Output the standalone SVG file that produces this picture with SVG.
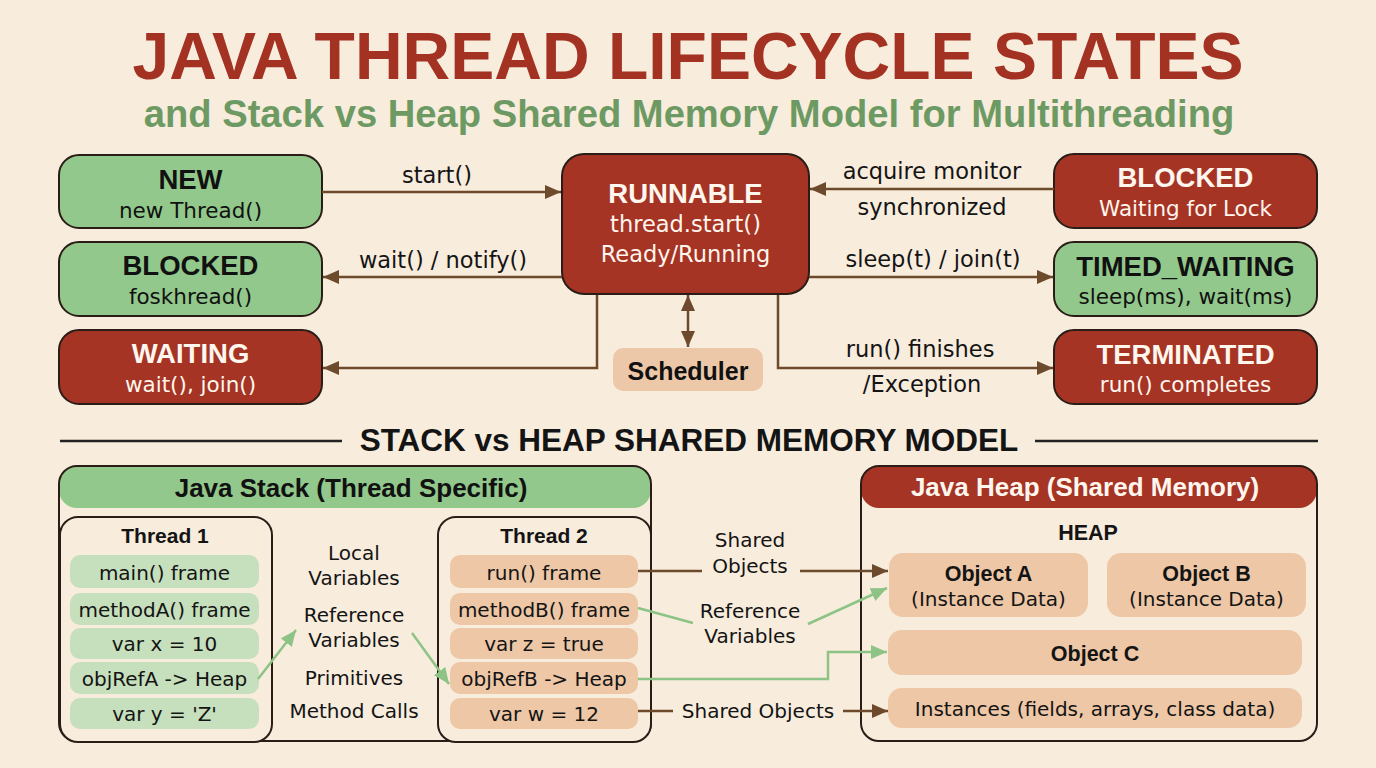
<svg xmlns="http://www.w3.org/2000/svg" width="1376" height="768" viewBox="0 0 1376 768">
<defs>
<style>
.bg{fill:#F8ECDD}
.t{font-family:"Liberation Sans",Arial,sans-serif;font-weight:bold;font-size:27.5px;text-anchor:middle}
.s{font-family:"DejaVu Sans",sans-serif;font-size:21.5px;text-anchor:middle}
.lbl{font-family:"DejaVu Sans",sans-serif;font-size:22.5px;text-anchor:middle;fill:#141414}
.sm{font-family:"DejaVu Sans",sans-serif;font-size:20px;text-anchor:middle;fill:#141414}
.bd{font-family:"Liberation Sans",Arial,sans-serif;font-weight:bold;font-size:21.5px;text-anchor:middle;fill:#141414}
.hd{font-family:"Liberation Sans",Arial,sans-serif;font-weight:bold;font-size:26px;text-anchor:middle}
.red{fill:#A53424;stroke:#2A1D17;stroke-width:2}
.grn{fill:#92C88B;stroke:#2A1D17;stroke-width:2}
.w{fill:#FFF6EE}
.k{fill:#111}
.frg{fill:#C6DFBC}
.frp{fill:#EDC7A6}
.box{fill:none;stroke:#2A1D17;stroke-width:2}
.bc{fill:none;stroke:#6E4A2D;stroke-width:2.5}
.gc{fill:none;stroke:#8DC486;stroke-width:2.5}
</style>
<marker id="ab" viewBox="0 0 16 14" refX="16" refY="7" markerWidth="16" markerHeight="14" markerUnits="userSpaceOnUse" orient="auto-start-reverse"><path d="M0,0 L16,7 L0,14 z" fill="#6E4A2D"/></marker>
<marker id="ag" viewBox="0 0 16 14" refX="16" refY="7" markerWidth="16" markerHeight="14" markerUnits="userSpaceOnUse" orient="auto"><path d="M0,0 L16,7 L0,14 z" fill="#8DC486"/></marker>
</defs>
<rect class="bg" x="0" y="0" width="1376" height="768"/>

<g id="title">
<text x="688" y="79" font-family="Liberation Sans, Arial, sans-serif" font-weight="bold" font-size="66" text-anchor="middle" fill="#A33222">JAVA THREAD LIFECYCLE STATES</text>
<text x="689" y="127" font-family="Liberation Sans, Arial, sans-serif" font-weight="bold" font-size="38.2" text-anchor="middle" fill="#6D9A63">and Stack vs Heap Shared Memory Model for Multithreading</text>
</g>

<g id="node-new">
<rect class="grn" x="59" y="155" width="263" height="73" rx="20"/>
<text class="t k" x="190.5" y="189">NEW</text>
<text class="s k" x="190.5" y="218">new Thread()</text>
</g>
<g id="node-blocked-left">
<rect class="grn" x="59" y="242" width="263" height="74" rx="20"/>
<text class="t k" x="190.5" y="275">BLOCKED</text>
<text class="s k" x="190.5" y="304">foskhread()</text>
</g>
<g id="node-waiting">
<rect class="red" x="59" y="330" width="263" height="74" rx="20"/>
<text class="t w" x="190.5" y="363">WAITING</text>
<text class="s w" x="190.5" y="392">wait(), join()</text>
</g>
<g id="node-runnable">
<rect class="red" x="562" y="154" width="247" height="140" rx="22"/>
<text class="t w" x="685.5" y="203">RUNNABLE</text>
<text class="lbl w" x="685.5" y="232">thread.start()</text>
<text class="lbl w" x="685.5" y="262">Ready/Running</text>
</g>
<g id="node-scheduler">
<rect x="613" y="348" width="150" height="43" rx="10" fill="#EDC8A8"/>
<text class="t k" x="688" y="380" style="font-size:25px">Scheduler</text>
</g>
<g id="node-blocked-right">
<rect class="red" x="1054" y="154" width="263" height="74" rx="20"/>
<text class="t w" x="1185.5" y="187">BLOCKED</text>
<text class="s w" x="1185.5" y="216">Waiting for Lock</text>
</g>
<g id="node-timed-waiting">
<rect class="grn" x="1054" y="242" width="263" height="74" rx="20"/>
<text class="t k" x="1185.5" y="276">TIMED_WAITING</text>
<text class="s k" x="1185.5" y="304">sleep(ms), wait(ms)</text>
</g>
<g id="node-terminated">
<rect class="red" x="1054" y="330" width="263" height="74" rx="20"/>
<text class="t w" x="1185.5" y="364">TERMINATED</text>
<text class="s w" x="1185.5" y="392">run() completes</text>
</g>

<g id="divider">
<line x1="60" y1="441" x2="342" y2="441" stroke="#222" stroke-width="2.5"/>
<line x1="1035" y1="441" x2="1318" y2="441" stroke="#222" stroke-width="2.5"/>
<text x="689" y="451" font-family="Liberation Sans, Arial, sans-serif" font-weight="bold" font-size="31.5" text-anchor="middle" fill="#141414">STACK vs HEAP SHARED MEMORY MODEL</text>
</g>

<g id="java-stack">
<rect x="59" y="466" width="592" height="42" rx="18" fill="#92C88B"/>
<rect class="box" x="59" y="466" width="592" height="275" rx="18"/>
<text class="hd k" x="351" y="497">Java Stack (Thread Specific)</text>
</g>
<g id="thread-1">
<rect x="60" y="517" width="212" height="225" rx="18" fill="#F8ECDD" stroke="#2A1D17" stroke-width="2"/>
<text class="bd" x="165" y="543" style="font-size:21px">Thread 1</text>
<rect class="frg" x="70" y="555" width="189" height="33" rx="10"/>
<rect class="frg" x="70" y="593" width="189" height="32" rx="10"/>
<rect class="frg" x="70" y="628" width="189" height="31" rx="10"/>
<rect class="frg" x="70" y="662" width="189" height="32" rx="10"/>
<rect class="frg" x="70" y="698" width="189" height="31" rx="10"/>
<text class="sm" x="164.5" y="580">main() frame</text>
<text class="sm" x="164.5" y="617">methodA() frame</text>
<text class="sm" x="164.5" y="651">var x = 10</text>
<text class="sm" x="164.5" y="686">objRefA -&gt; Heap</text>
<text class="sm" x="164.5" y="721">var y = 'Z'</text>
</g>
<g id="stack-notes">
<text class="sm" x="354" y="560">Local</text>
<text class="sm" x="354" y="585">Variables</text>
<text class="sm" x="354" y="622">Reference</text>
<text class="sm" x="354" y="647">Variables</text>
<text class="sm" x="354" y="685">Primitives</text>
<text class="sm" x="354" y="718">Method Calls</text>
</g>
<g id="thread-2">
<rect x="438" y="517" width="213" height="225" rx="18" fill="#F8ECDD" stroke="#2A1D17" stroke-width="2"/>
<text class="bd" x="544" y="543" style="font-size:21px">Thread 2</text>
<rect class="frp" x="450" y="555" width="188" height="33" rx="10"/>
<rect class="frp" x="450" y="593" width="188" height="32" rx="10"/>
<rect class="frp" x="450" y="628" width="188" height="31" rx="10"/>
<rect class="frp" x="450" y="662" width="188" height="32" rx="10"/>
<rect class="frp" x="450" y="698" width="188" height="31" rx="10"/>
<text class="sm" x="544" y="580">run() frame</text>
<text class="sm" x="544" y="617">methodB() frame</text>
<text class="sm" x="544" y="651">var z = true</text>
<text class="sm" x="544" y="686">objRefB -&gt; Heap</text>
<text class="sm" x="544" y="721">var w = 12</text>
</g>

<g id="java-heap">
<rect x="861" y="466" width="456" height="42" rx="18" fill="#A53424"/>
<rect class="box" x="861" y="466" width="456" height="275" rx="18"/>
<text class="hd w" x="1085" y="496">Java Heap (Shared Memory)</text>
<text class="bd" x="1088" y="540">HEAP</text>
</g>
<g id="object-a">
<rect class="frp" x="889" y="553" width="199" height="64" rx="14"/>
<text class="bd" x="988.5" y="581">Object A</text>
<text class="sm" x="988.5" y="606">(Instance Data)</text>
</g>
<g id="object-b">
<rect class="frp" x="1107" y="553" width="199" height="64" rx="14"/>
<text class="bd" x="1206.5" y="581">Object B</text>
<text class="sm" x="1206.5" y="606">(Instance Data)</text>
</g>
<g id="object-c">
<rect class="frp" x="888" y="630" width="414" height="45" rx="14"/>
<text class="bd" x="1095" y="661">Object C</text>
</g>
<g id="instances">
<rect class="frp" x="888" y="688" width="414" height="40" rx="14"/>
<text class="sm" x="1095" y="716">Instances (fields, arrays, class data)</text>
</g>

<g id="connectors">
<line class="bc" x1="322" y1="192" x2="561" y2="192" marker-end="url(#ab)"/>
<line class="bc" x1="562" y1="277" x2="323" y2="277" marker-end="url(#ab)"/>
<path class="bc" d="M597,295 V368 H323" marker-end="url(#ab)"/>
<line class="bc" x1="688" y1="295" x2="688" y2="347" marker-start="url(#ab)" marker-end="url(#ab)"/>
<path class="bc" d="M778,295 V368 H1053" marker-end="url(#ab)"/>
<line class="bc" x1="809" y1="277" x2="1053" y2="277" marker-end="url(#ab)"/>
<line class="bc" x1="1054" y1="189" x2="810" y2="189" marker-end="url(#ab)"/>
<text class="lbl" x="437" y="183">start()</text>
<text class="lbl" x="443" y="268">wait() / notify()</text>
<text class="lbl" x="932" y="179">acquire monitor</text>
<text class="lbl" x="932" y="215">synchronized</text>
<text class="lbl" x="933" y="267">sleep(t) / join(t)</text>
<text class="lbl" x="920" y="357">run() finishes</text>
<text class="lbl" x="922" y="392">/Exception</text>

<path class="gc" d="M258,679 L296,630" marker-end="url(#ag)"/>
<path class="gc" d="M412,633 L449,684" marker-end="url(#ag)"/>
<path class="bc" d="M638,571 H702"/>
<path class="bc" d="M800,571 H888" marker-end="url(#ab)"/>
<path class="gc" d="M638,608 L693,623"/>
<path class="gc" d="M808,624 L887,588" marker-end="url(#ag)"/>
<path class="gc" d="M638,679 H828 V652 H887" marker-end="url(#ag)"/>
<path class="bc" d="M638,711 H673"/>
<path class="bc" d="M843,711 H888" marker-end="url(#ab)"/>
<text class="sm" x="750" y="547">Shared</text>
<text class="sm" x="750" y="573">Objects</text>
<text class="sm" x="750" y="618">Reference</text>
<text class="sm" x="750" y="643">Variables</text>
<text class="sm" x="758" y="718">Shared Objects</text>
</g>
</svg>
